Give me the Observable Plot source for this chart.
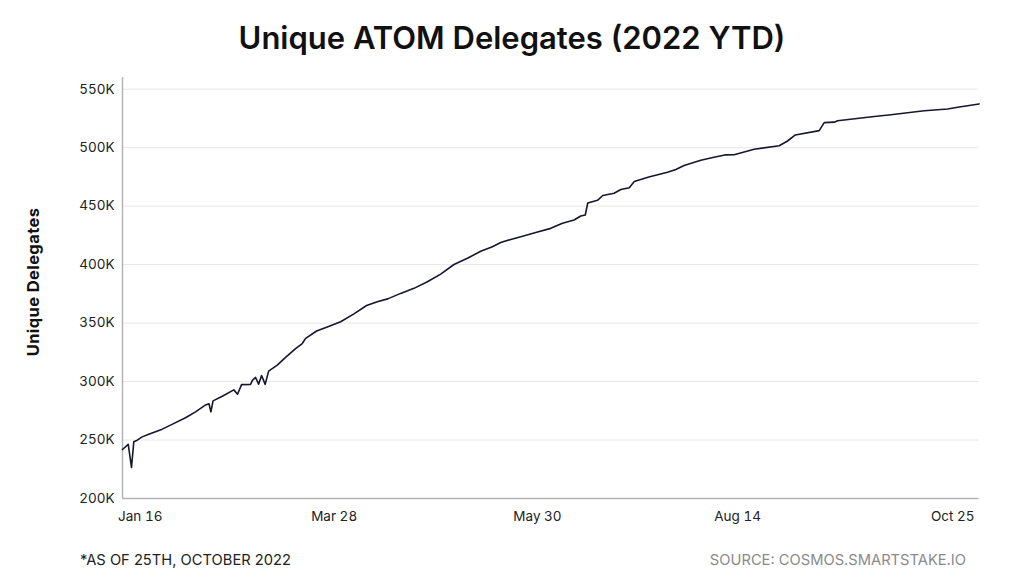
<!DOCTYPE html>
<html>
<head>
<meta charset="utf-8">
<script src="https://cdn.jsdelivr.net/npm/d3@7"></script>
<script src="https://cdn.jsdelivr.net/npm/@observablehq/plot@0.6"></script>
<style>
  html, body { margin: 0; padding: 0; background: #fff; }
  #wrap { position: relative; width: 1024px; height: 583px; overflow: hidden; font-family: Inter, "Noto Sans", sans-serif; }
  #title { position: absolute; left: 0; width: 1024px; top: 19px; text-align: center; font-size: 31px; font-weight: 600; color: #111; }
  #ylabel { position: absolute; left: 33px; top: 282px; transform: translate(-50%, -50%) rotate(-90deg); font-size: 16.5px; font-weight: 700; color: #111; white-space: nowrap; letter-spacing: 0.4px; }
  #note { position: absolute; left: 80px; top: 551px; font-size: 14.7px; color: #222; }
  #source { position: absolute; right: 58px; top: 551px; font-size: 14.7px; color: #8a8a8a; }
  #chart { position: absolute; left: 0; top: 0; }
</style>
</head>
<body>
<div id="wrap">
  <div id="chart"></div>
  <div id="title">Unique ATOM Delegates (2022 YTD)</div>
  <div id="ylabel">Unique Delegates</div>
  <div id="note">*AS OF 25TH, OCTOBER 2022</div>
  <div id="source">SOURCE: COSMOS.SMARTSTAKE.IO</div>
</div>
<script>
// sample position along the (categorical) date axis, 0 = first sample, 100 = last
const sampleIndex = [0.0,0.67,1.05,1.32,1.72,2.30,3.07,4.64,5.84,7.36,8.53,9.7,10.1,10.32,10.57,11.65,13.0,13.43,13.9,14.95,15.19,15.54,15.89,16.24,16.66,17.06,18.07,19.04,20.21,20.99,21.38,22.66,23.91,25.47,27.02,28.50,29.75,30.96,32.48,34.03,35.6,37.15,38.70,40.27,41.82,43.19,44.16,45.33,46.50,48.25,50.0,51.37,52.72,53.50,54.03,54.32,55.46,56.07,57.4,58.18,59.17,59.75,61.45,63.63,64.6,65.57,67.52,68.93,70.33,71.41,73.75,76.67,77.65,78.56,81.34,81.93,83.10,83.49,87.77,89.72,93.61,96.34,97.51,100.0];
// unique delegates, thousands
const delegatesK = [241.9,246.3,226.5,248.6,249.9,252.7,255.0,259.3,263.6,269.0,274.1,280.0,281.0,274.1,283.5,287.5,292.9,289.2,297.4,297.6,301.2,303.5,297.8,305.1,297.6,308.9,314.1,320.7,328.2,332.5,336.9,343.2,346.6,351.1,357.9,365.0,368.2,370.7,375.4,379.7,385.3,391.9,400.1,405.4,411.4,415.3,418.9,421.5,423.9,427.4,431.0,435.3,438.1,441.6,442.4,452.7,455.0,459.1,461.0,464.2,465.8,471.1,474.9,479.0,481.4,484.8,489.2,491.6,493.8,493.9,498.6,501.7,505.7,510.9,514.6,521.4,521.8,523.0,526.7,528.2,531.6,533.1,534.6,537.4];
// date tick labels and their sample positions
const tickLabels = ["Jan 16","Mar 28","May 30","Aug 14","Oct 25"];
const tickIndex = [2.07,24.71,48.45,71.81,96.93];
const yTicks = [200000,250000,300000,350000,400000,450000,500000,550000];

const data = sampleIndex.map((x, i) => ({x, y: delegatesK[i] * 1000}));
const tickMap = new Map(tickIndex.map((t, i) => [t, tickLabels[i]]));

const chart = Plot.plot({
  width: 1024,
  height: 583,
  marginLeft: 122,
  marginRight: 45.5,
  marginTop: 77,
  marginBottom: 85,
  style: {fontFamily: "Inter, 'Noto Sans', sans-serif", fontSize: "13.5px", color: "#222", background: "transparent"},
  x: {domain: [0, 100], axis: null},
  y: {domain: [200000, 560000], axis: null},
  marks: [
    Plot.gridY(yTicks.slice(1), {stroke: "#e6e6e6", strokeOpacity: 1, strokeWidth: 1}),
    Plot.ruleY([200000], {stroke: "#b5b5b5", strokeWidth: 1.5}),
    Plot.ruleX([0], {stroke: "#b5b5b5", strokeWidth: 1.5}),
    Plot.axisY(yTicks, {tickSize: 0, tickPadding: 8, tickFormat: d => d / 1000 + "K", label: null, fill: "#222"}),
    Plot.axisX(tickIndex, {tickSize: 0, tickPadding: 13, tickFormat: d => tickMap.get(d), label: null, fill: "#222"}),
    Plot.line(data, {x: "x", y: "y", stroke: "#16162e", strokeWidth: 1.6, curve: "linear"})
  ]
});
document.getElementById("chart").appendChild(chart);
</script>
</body>
</html>
